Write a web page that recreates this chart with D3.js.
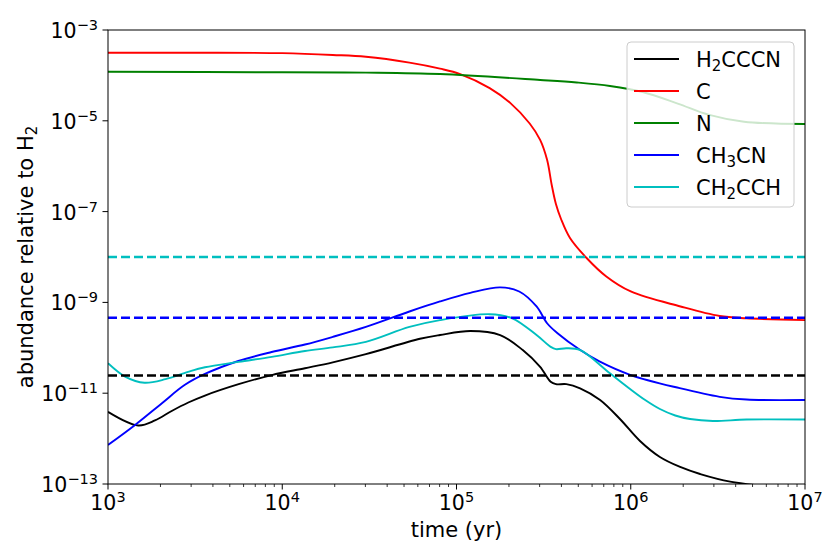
<!DOCTYPE html>
<html>
<head>
<meta charset="utf-8">
<script src="https://cdn.jsdelivr.net/npm/d3@7"></script>
<style>
  html, body { margin: 0; padding: 0; background: #fff; }
  svg { display: block; font-family: "DejaVu Sans", sans-serif; }
</style>
</head>
<body>
<svg id="chart" width="830" height="554"></svg>
<script>
// abundances (time in yr, abundance relative to H2)
const timeC = [1e3, 3.16e3, 1e4, 1.95e4, 3.02e4, 5.37e4, 8.04e4, 1.05e5, 1.55e5, 2.04e5, 2.63e5, 3.02e5, 3.31e5, 3.52e5, 3.72e5, 3.98e5, 4.48e5, 5.58e5, 7.24e5, 1e6, 1.93e6, 3.24e6, 4.62e6, 1e7];
const abunC = [3.16e-4, 3.16e-4, 3.09e-4, 2.82e-4, 2.57e-4, 1.91e-4, 1.41e-4, 1.07e-4, 5.25e-5, 2.45e-5, 8.71e-6, 3.80e-6, 1.38e-6, 3.85e-7, 1.47e-7, 6.87e-8, 2.62e-8, 9.5e-9, 3.72e-9, 1.74e-9, 8.13e-10, 5.01e-10, 4.47e-10, 4.07e-10];

const timeN = [1e3, 1e4, 3.02e4, 8.04e4, 3.02e5, 4.90e5, 7.60e5, 1.17e6, 1.86e6, 2.82e6, 4.47e6, 1e7];
const abunN = [1.20e-4, 1.17e-4, 1.15e-4, 1.07e-4, 7.94e-5, 6.98e-5, 5.85e-5, 4.31e-5, 2.40e-5, 1.35e-5, 9.55e-6, 8.51e-6];

const timeH2CCCN = [1e3, 1.49e3, 1.86e3, 2.32e3, 2.89e3, 3.60e3, 5.62e3, 8.71e3, 1.35e4, 1.95e4, 3.02e4, 6.17e4, 8.04e4, 1.20e5, 1.78e5, 2.40e5, 3.02e5, 3.47e5, 3.72e5, 4.27e5, 5.12e5, 6.67e5, 8.67e5, 1.13e6, 1.47e6, 1.92e6, 2.50e6, 3.72e6, 1e7];
const abunH2CCCN = [3.89e-12, 1.95e-12, 2.51e-12, 4.06e-12, 6.24e-12, 8.89e-12, 1.58e-11, 2.51e-11, 3.55e-11, 4.79e-11, 7.24e-11, 1.58e-10, 1.91e-10, 2.34e-10, 1.91e-10, 8.91e-11, 3.80e-11, 1.78e-11, 1.58e-11, 1.58e-11, 1.28e-11, 7.08e-12, 2.70e-12, 8.85e-13, 3.93e-13, 2.37e-13, 1.66e-13, 1.13e-13, 7.4e-14];

const timeCH3CN = [1e3, 1.43e3, 2.04e3, 2.75e3, 3.60e3, 5.60e3, 8.69e3, 1.35e4, 1.95e4, 3.02e4, 5.37e4, 8.04e4, 1.20e5, 1.78e5, 2.29e5, 2.88e5, 3.31e5, 3.80e5, 5.13e5, 6.61e5, 1e6, 1.91e6, 3.24e6, 4.62e6, 1e7];
const abunCH3CN = [7.24e-13, 2.00e-12, 6.03e-12, 1.51e-11, 2.65e-11, 5.12e-11, 8.07e-11, 1.18e-10, 1.74e-10, 2.88e-10, 6.31e-10, 1.05e-9, 1.62e-9, 2.14e-9, 1.74e-9, 8.13e-10, 3.47e-10, 2.09e-10, 8.91e-11, 5.01e-11, 2.51e-11, 1.29e-11, 8.32e-12, 7.24e-12, 7.08e-12];

const timeCH2CCH = [1e3, 1.26e3, 1.62e3, 2.14e3, 2.88e3, 3.60e3, 5.62e3, 8.71e3, 1.35e4, 1.95e4, 3.02e4, 5.37e4, 8.04e4, 1.55e5, 2.09e5, 2.88e5, 3.47e5, 3.72e5, 4.27e5, 5.13e5, 7.59e5, 9.91e5, 1.21e6, 1.47e6, 1.80e6, 2.19e6, 2.96e6, 4.62e6, 1e7];
const abunCH2CCH = [4.57e-11, 2.29e-11, 1.70e-11, 2.04e-11, 2.95e-11, 3.72e-11, 4.90e-11, 6.31e-11, 8.51e-11, 1.02e-10, 1.35e-10, 2.88e-10, 4.07e-10, 5.50e-10, 4.47e-10, 1.91e-10, 1.05e-10, 9.33e-11, 9.77e-11, 8.91e-11, 2.75e-11, 1.24e-11, 7.08e-12, 4.49e-12, 3.23e-12, 2.70e-12, 2.44e-12, 2.63e-12, 2.63e-12];

// observed values, drawn as dashed lines
const obsNames = ['CH2CCH', 'CH3CN', 'H2CCCN'];
const obsValues = [1e-8, 4.6e-10, 2.45e-11];

const xTicks = [1e3, 1e4, 1e5, 1e6, 1e7];
const yTicks = [1e-3, 1e-5, 1e-7, 1e-9, 1e-11, 1e-13];

const series = [
  { name: 'H2CCCN', parts: [['H'], ['2', 'sub'], ['CCCN']], color: '#000000', t: timeH2CCCN, v: abunH2CCCN },
  { name: 'C', parts: [['C']], color: '#ff0000', t: timeC, v: abunC },
  { name: 'N', parts: [['N']], color: '#008000', t: timeN, v: abunN },
  { name: 'CH3CN', parts: [['CH'], ['3', 'sub'], ['CN']], color: '#0000ff', t: timeCH3CN, v: abunCH3CN },
  { name: 'CH2CCH', parts: [['CH'], ['2', 'sub'], ['CCH']], color: '#00bfbf', t: timeCH2CCH, v: abunCH2CCH }
];
const colorOf = name => series.find(s => s.name === name).color;

const W = 830, H = 554;
const margin = { top: 30, right: 25, bottom: 70, left: 108 };
const svg = d3.select('#chart');

const x = d3.scaleLog().domain([1e3, 1e7]).range([margin.left, W - margin.right]);
const y = d3.scaleLog().domain([1e-13, 1e-3]).range([H - margin.bottom, margin.top]);

svg.append('clipPath').attr('id', 'plot-clip')
  .append('rect')
  .attr('x', margin.left).attr('y', margin.top)
  .attr('width', x.range()[1] - margin.left)
  .attr('height', y.range()[0] - margin.top);

const line = d3.line()
  .x(d => x(d[0]))
  .y(d => y(d[1]))
  .curve(d3.curveCatmullRom.alpha(0.5));

const plot = svg.append('g').attr('clip-path', 'url(#plot-clip)');

series.forEach(s => {
  plot.append('path')
    .datum(d3.zip(s.t, s.v))
    .attr('d', line)
    .attr('fill', 'none')
    .attr('stroke', s.color)
    .attr('stroke-width', 1.9)
    .attr('stroke-linejoin', 'round');
});

// dashed observed abundances
obsNames.forEach((n, i) => {
  plot.append('line')
    .attr('x1', x(1e3)).attr('x2', x(1e7))
    .attr('y1', y(obsValues[i])).attr('y2', y(obsValues[i]))
    .attr('stroke', colorOf(n))
    .attr('stroke-width', 2.5)
    .attr('stroke-dasharray', '9,4');
});

// frame
svg.append('rect')
  .attr('x', margin.left).attr('y', margin.top)
  .attr('width', x.range()[1] - margin.left)
  .attr('height', y.range()[0] - margin.top)
  .attr('fill', 'none').attr('stroke', '#000').attr('stroke-width', 1);

// x axis
const minorX = [];
for (let k = 3; k < 7; k++) for (let m = 2; m <= 9; m++) minorX.push(m * Math.pow(10, k));
const xAxis = svg.append('g').attr('transform', `translate(0,${y.range()[0]})`);
xAxis.selectAll('line.minor').data(minorX).enter().append('line')
  .attr('x1', d => x(d)).attr('x2', d => x(d))
  .attr('y1', 0).attr('y2', 3)
  .attr('stroke', '#000').attr('stroke-width', 0.8);
xAxis.selectAll('line.major').data(xTicks).enter().append('line')
  .attr('x1', d => x(d)).attr('x2', d => x(d))
  .attr('y1', 0).attr('y2', 5.5)
  .attr('stroke', '#000').attr('stroke-width', 1);
const xl = xAxis.selectAll('text').data(xTicks).enter().append('text')
  .attr('x', d => x(d)).attr('y', 26)
  .attr('text-anchor', 'middle')
  .attr('font-size', 20.5).attr('fill', '#000');
xl.append('tspan').text('10');
xl.append('tspan').attr('font-size', 14.5).attr('dy', -8).text(d => Math.round(Math.log10(d)));

// y axis
const yAxis = svg.append('g').attr('transform', `translate(${margin.left},0)`);
yAxis.selectAll('line').data(yTicks).enter().append('line')
  .attr('x1', -5.5).attr('x2', 0)
  .attr('y1', d => y(d)).attr('y2', d => y(d))
  .attr('stroke', '#000').attr('stroke-width', 1);
const yl = yAxis.selectAll('text').data(yTicks).enter().append('text')
  .attr('x', -10).attr('y', d => y(d) + 8)
  .attr('text-anchor', 'end')
  .attr('font-size', 20.5).attr('fill', '#000');
yl.append('tspan').text('10');
yl.append('tspan').attr('font-size', 14.5).attr('dy', -8)
  .text(d => '\u2212' + Math.round(-Math.log10(d)));

// axis labels
svg.append('text')
  .attr('x', (margin.left + x.range()[1]) / 2)
  .attr('y', 537)
  .attr('text-anchor', 'middle')
  .attr('font-size', 21).attr('fill', '#000')
  .text('time (yr)');

const ylab = svg.append('text')
  .attr('transform', `translate(33,${(margin.top + y.range()[0]) / 2}) rotate(-90)`)
  .attr('text-anchor', 'middle')
  .attr('font-size', 21).attr('fill', '#000');
ylab.append('tspan').text('abundance relative to H');
ylab.append('tspan').attr('font-size', 15).attr('dy', 4).text('2');

// legend
const leg = svg.append('g').attr('transform', 'translate(627,42)');
leg.append('rect')
  .attr('width', 167).attr('height', 165).attr('rx', 4)
  .attr('fill', '#fff').attr('fill-opacity', 0.8)
  .attr('stroke', '#cccccc').attr('stroke-width', 1);
series.forEach((s, i) => {
  const cy = 17 + i * 32;
  leg.append('line')
    .attr('x1', 7).attr('x2', 52).attr('y1', cy).attr('y2', cy)
    .attr('stroke', s.color).attr('stroke-width', 2);
  const t = leg.append('text')
    .attr('x', 69).attr('y', cy + 8)
    .attr('font-size', 21).attr('fill', '#000');
  let shifted = false;
  s.parts.forEach(p => {
    const ts = t.append('tspan').text(p[0]);
    if (p[1] === 'sub') { ts.attr('font-size', 15).attr('dy', 4); shifted = true; }
    else if (shifted) { ts.attr('dy', -4); shifted = false; }
  });
});
</script>
</body>
</html>
